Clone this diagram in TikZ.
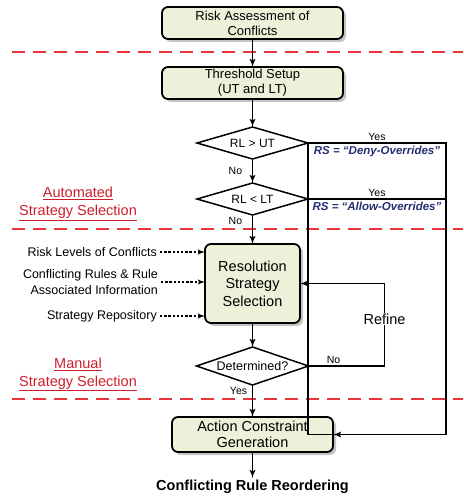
\documentclass[tikz,border=0pt]{standalone}
\usepackage{fontspec}
\setmainfont{Liberation Sans}
\usepackage{tikz}
\usetikzlibrary{arrows, positioning, shapes, shadows}

\definecolor{boxfill}{RGB}{238,241,218}
\definecolor{sepred}{RGB}{234,52,60}
\definecolor{phasered}{RGB}{206,30,42}
\definecolor{rsblue}{RGB}{36,46,112}

\tikzset{
  stepbox/.style={draw, line width=1.8pt, rounded corners=6pt, fill=boxfill,
    align=center, inner sep=0pt, outer sep=0pt,
    drop shadow={shadow xshift=3pt, shadow yshift=-3pt, fill=black!45}},
  decision/.style={draw, diamond, line width=1.5pt, fill=white, inner sep=0pt,
    outer sep=0pt, inner xsep=-3pt, aspect=3.4, minimum width=111pt,
    minimum height=32pt, font=\fontsize{12}{14}\selectfont},
  flow/.style={draw, line width=1.8pt, -latex'},
  rail/.style={draw, line width=1.7pt},
  feed/.style={draw, line width=1.5pt, dash pattern=on 2.4pt off 1.8pt, -latex'},
  feedtext/.style={anchor=east, align=right, inner sep=3pt,
    font=\fontsize{12.5}{16}\selectfont},
  sepline/.style={draw=sepred, line width=2pt, dash pattern=on 13pt off 8pt},
  phase/.style={text=phasered, align=center, font=\fontsize{14.5}{18}\selectfont},
  answer/.style={inner sep=1.5pt, font=\fontsize{10.5}{12}\selectfont},
  rslabel/.style={inner sep=2pt, text=rsblue,
    font=\fontsize{11.5}{13}\selectfont\bfseries\itshape}
}

\begin{document}
\begin{tikzpicture}[x=1pt, y=-1pt]
\useasboundingbox (0,0) rectangle (463,500);

% phase separators
\draw[sepline] (12,52)  -- (463,52);
\draw[sepline] (12,229) -- (463,229);
\draw[sepline] (12,399) -- (463,399);

% main chain
\node [stepbox, minimum width=181pt, minimum height=32pt,
  font=\fontsize{13}{15}\selectfont] (assess) at (252.5,23) {
	Risk Assessment of\\Conflicts};
\node [stepbox, minimum width=181pt, minimum height=32pt,
  font=\fontsize{13}{15}\selectfont, below=28pt of assess] (thresh) {
	Threshold Setup\\(UT and LT)};
\node [decision, below=28pt of thresh] (rlut) {RL > UT};
\node [decision, below=24pt of rlut  ] (rllt) {RL < LT};
\node [stepbox, minimum width=95pt, minimum height=79pt,
  font=\fontsize{14.5}{17.5}\selectfont, below=29pt of rllt] (select) {
	Resolution\\Strategy\\Selection};
\node [decision, minimum width=112pt, minimum height=38pt,
  font=\fontsize{12.5}{14}\selectfont, below=24pt of select] (determ) {Determined?};
\node [stepbox, minimum width=161pt, minimum height=35pt,
  font=\fontsize{14.5}{16}\selectfont, below=32pt of determ] (action) {
	Action Constraint\\Generation};
\node [inner sep=2pt, font=\fontsize{14.5}{16}\selectfont\bfseries,
  below=26pt of action] (reorder) {Conflicting Rule Reordering};

% inputs of the selection
\node [feedtext] (levels) at (160,252) {Risk Levels of Conflicts};
\node [feedtext] (rules)  at (161,282) {Conflicting Rules \& Rule\\Associated Information};
\node [feedtext] (repo)   at (160,316) {Strategy Repository};

% phase labels
\node [phase] (autosel)   at (78,204)   {\underline{Automated}\\\underline{Strategy Selection}};
\node [phase] (manualsel) at (78,374.5) {\underline{Manual}\\\underline{Strategy Selection}};

\coordinate (railtop)   at ([xshift=138pt]rlut.east);
\coordinate (refcorner) at ([xshift=76pt]determ.east);

\path [flow] (assess) -- (thresh);
\path [flow] (thresh) -- (rlut);
\path [flow] (rlut)   -- node [answer, left, xshift=-8pt] {No} (rllt);
\path [flow] (rllt)   -- node [answer, left, xshift=-8pt, pos=0.2] {No} (select);
\path [flow] (select) -- (determ);
\path [flow] (determ) -- node [answer, left, xshift=-3pt, pos=0.17] {Yes} (action);
\path [flow] (action) -- (reorder);

\path [feed] (levels.east) -- (levels.east -| select.west);
\path [feed] (rules.east)  -- (rules.east -| select.west);
\path [feed] (repo.east)   -- (repo.east -| select.west);

% yes branches
\path [flow] (rlut.east) -- node [answer, above] {Yes}
  node [rslabel, below] {RS = “Deny-Overrides”} (railtop) |- (action.east);
\path [rail] (rllt.east) -- node [answer, above] {Yes}
  node [rslabel, below] {RS = “Allow-Overrides”} (rllt.east -| railtop);
\path [rail] (rlut.east) |- (action.east);

% refine loop
\path [flow] (determ.east) -- node [answer, above, pos=0.33] {No} (refcorner)
  -- node [fill=white, inner sep=1pt, pos=0.57, font=\fontsize{14.5}{16}\selectfont] {Refine}
  (refcorner |- select.east) -- (select.east);

\end{tikzpicture}
\end{document}
